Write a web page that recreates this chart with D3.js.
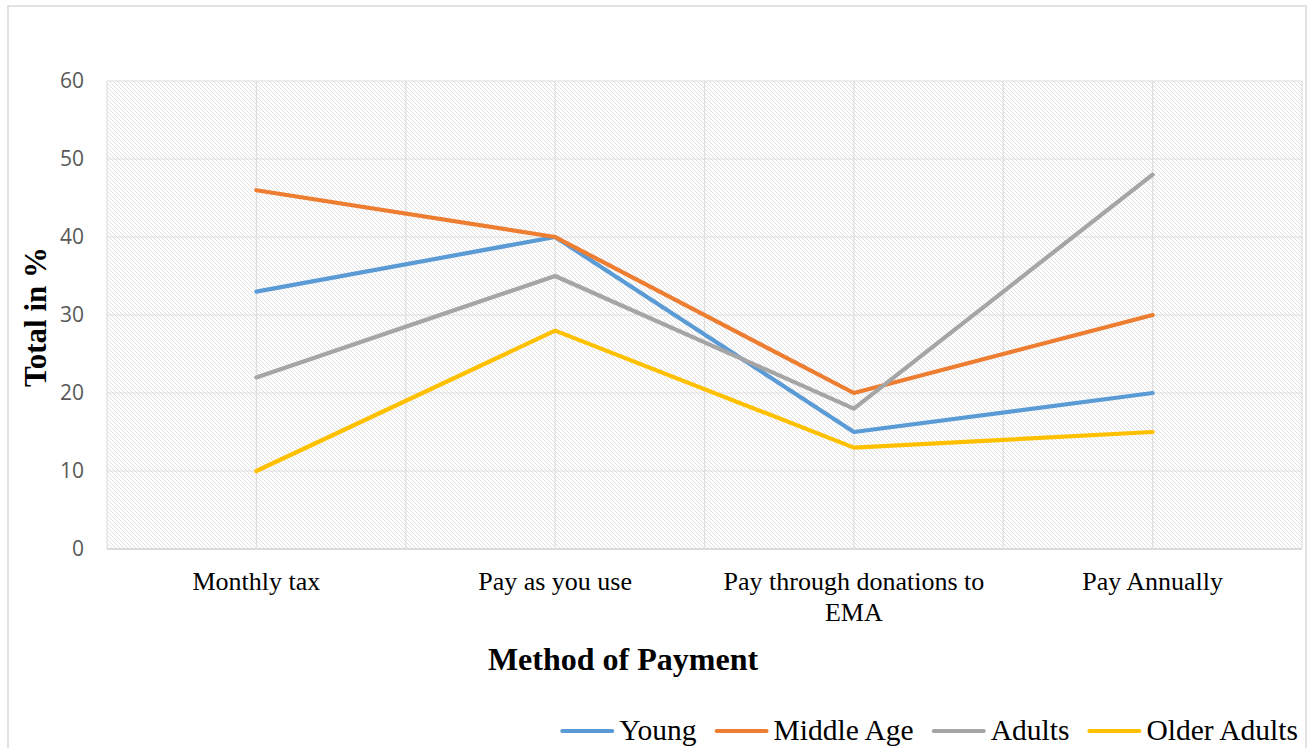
<!DOCTYPE html>
<html>
<head>
<meta charset="utf-8">
<script src="https://cdn.jsdelivr.net/npm/d3@7"></script>
<style>
  html, body { margin: 0; padding: 0; background: #ffffff; }
  svg { display: block; }
</style>
</head>
<body>
<svg id="chart" width="1312" height="748"></svg>
<script>
// Payment method preference by age group (%)
const categories = ["Monthly tax", "Pay as you use", "Pay through donations to EMA", "Pay Annually"];
const seriesNames = ["Young", "Middle Age", "Adults", "Older Adults"];
const young = [33, 40, 15, 20];
const middleAge = [46, 40, 20, 30];
const adults = [22, 35, 18, 48];
const olderAdults = [10, 28, 13, 15];
const yTicks = [0, 10, 20, 30, 40, 50, 60];

const seriesValues = [young, middleAge, adults, olderAdults];
const colors = ["#5B9BD5", "#ED7D31", "#A5A5A5", "#FFC000"];

const svg = d3.select("#chart");
const plot = { left: 107, right: 1302, top: 81, bottom: 549 };

// Outer chart frame (bottom edge runs past the viewport)
svg.append("rect")
  .attr("x", 8).attr("y", 6)
  .attr("width", 1298).attr("height", 760)
  .attr("fill", "#ffffff")
  .attr("stroke", "#d9d9d9")
  .attr("stroke-width", 1.5);

// Downward diagonal hatch fill for the plot area
const defs = svg.append("defs");
const pat = defs.append("pattern")
  .attr("id", "hatch")
  .attr("patternUnits", "userSpaceOnUse")
  .attr("width", 4).attr("height", 4);
pat.append("rect").attr("width", 4).attr("height", 4).attr("fill", "#ffffff");
pat.append("path")
  .attr("d", "M-1,-1 L5,5 M-1,3 L1,5 M3,-1 L5,1")
  .attr("stroke", "#e0e0e0")
  .attr("stroke-width", 1);

const x = d3.scalePoint()
  .domain(categories)
  .range([plot.left, plot.right])
  .padding(0.5);

const y = d3.scaleLinear()
  .domain([0, 60])
  .range([plot.bottom, plot.top]);

svg.append("rect")
  .attr("x", plot.left).attr("y", plot.top)
  .attr("width", plot.right - plot.left)
  .attr("height", plot.bottom - plot.top)
  .attr("fill", "url(#hatch)");

// Horizontal gridlines
svg.append("g")
  .selectAll("line")
  .data(yTicks)
  .join("line")
  .attr("x1", plot.left).attr("x2", plot.right)
  .attr("y1", d => y(d)).attr("y2", d => y(d))
  .attr("stroke", d => d === 0 ? "#d0d0d0" : "#dedede")
  .attr("stroke-width", d => d === 0 ? 1.5 : 1.2);

// Vertical gridlines at category centres and band edges
const step = x.step();
const vLines = [];
categories.forEach(c => {
  vLines.push(x(c) - step / 2);
  vLines.push(x(c));
});
vLines.push(x(categories[categories.length - 1]) + step / 2);
svg.append("g")
  .selectAll("line")
  .data(vLines)
  .join("line")
  .attr("x1", d => d).attr("x2", d => d)
  .attr("y1", plot.top).attr("y2", plot.bottom)
  .attr("stroke", "#dedede")
  .attr("stroke-width", 1.2);

// Y axis tick labels
const yAxis = d3.axisLeft(y).tickValues(yTicks).tickSize(0).tickPadding(23);
const yg = svg.append("g")
  .attr("transform", `translate(${plot.left},0)`)
  .call(yAxis);
yg.select(".domain").remove();
yg.selectAll("text")
  .attr("font-family", "'Open Sans', sans-serif")
  .attr("font-size", 21)
  .attr("fill", "#595959");

// X axis category labels (wrapped onto two lines where needed)
const catLines = {
  "Monthly tax": ["Monthly tax"],
  "Pay as you use": ["Pay as you use"],
  "Pay through donations to EMA": ["Pay through donations to", "EMA"],
  "Pay Annually": ["Pay Annually"]
};
const xg = svg.append("g");
categories.forEach(c => {
  const t = xg.append("text")
    .attr("x", x(c))
    .attr("y", 590)
    .attr("text-anchor", "middle")
    .attr("font-family", "'Liberation Serif', 'Times New Roman', serif")
    .attr("font-size", 26)
    .attr("fill", "#000000");
  catLines[c].forEach((ln, i) => {
    t.append("tspan")
      .attr("x", x(c))
      .attr("dy", i === 0 ? 0 : 31)
      .text(ln);
  });
});

// Axis titles
svg.append("text")
  .attr("x", 623).attr("y", 670)
  .attr("text-anchor", "middle")
  .attr("font-family", "'Liberation Serif', 'Times New Roman', serif")
  .attr("font-weight", "bold")
  .attr("font-size", 32)
  .attr("fill", "#000000")
  .text("Method of Payment");

svg.append("text")
  .attr("transform", "translate(46,317) rotate(-90)")
  .attr("text-anchor", "middle")
  .attr("font-family", "'Liberation Serif', 'Times New Roman', serif")
  .attr("font-weight", "bold")
  .attr("font-size", 31)
  .attr("fill", "#000000")
  .text("Total in %");

// Series lines
const line = d3.line()
  .x((d, i) => x(categories[i]))
  .y(d => y(d));

svg.append("g")
  .selectAll("path")
  .data(seriesValues)
  .join("path")
  .attr("d", d => line(d))
  .attr("fill", "none")
  .attr("stroke", (d, i) => colors[i])
  .attr("stroke-width", 4.2)
  .attr("stroke-linejoin", "round")
  .attr("stroke-linecap", "round");

// Legend, right-aligned at the bottom
const legendFont = 29.5;
const lg = svg.append("g");
const measure = svg.append("text")
  .attr("font-family", "'Liberation Serif', 'Times New Roman', serif")
  .attr("font-size", legendFont)
  .attr("visibility", "hidden");
const widths = seriesNames.map(n => {
  measure.text(n);
  return measure.node().getComputedTextLength();
});
measure.remove();
const swatch = 54, gapAfterSwatch = 5, gapBetween = 18;
let total = 0;
widths.forEach((w, i) => { total += swatch + gapAfterSwatch + w + (i < widths.length - 1 ? gapBetween : 0); });
let cx = 1298 - total;
seriesNames.forEach((n, i) => {
  lg.append("line")
    .attr("x1", cx + 2).attr("x2", cx + swatch - 2)
    .attr("y1", 731).attr("y2", 731)
    .attr("stroke", colors[i])
    .attr("stroke-width", 4)
    .attr("stroke-linecap", "round");
  lg.append("text")
    .attr("x", cx + swatch + gapAfterSwatch)
    .attr("y", 740)
    .attr("font-family", "'Liberation Serif', 'Times New Roman', serif")
    .attr("font-size", legendFont)
    .attr("fill", "#000000")
    .text(n);
  cx += swatch + gapAfterSwatch + widths[i] + gapBetween;
});
</script>
</body>
</html>
